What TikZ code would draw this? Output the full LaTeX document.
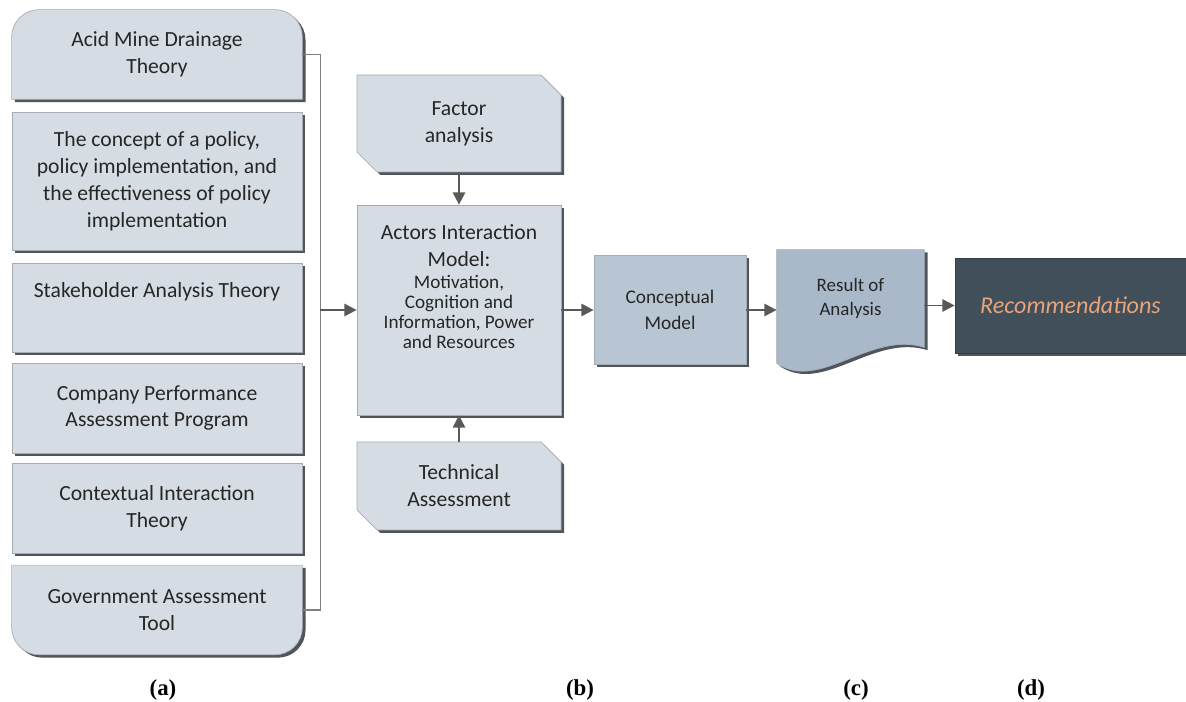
\documentclass[tikz,border=0pt]{standalone}
\usepackage{fontspec}
\setmainfont{Carlito}
\newfontfamily\capfont{Liberation Serif}
\usepackage{tikz}
\usetikzlibrary{shapes}
\usetikzlibrary{shapes.misc}
\usetikzlibrary{positioning}
\usetikzlibrary{calc}
\usetikzlibrary{arrows.meta}
\usetikzlibrary{shadows,backgrounds}

\definecolor{boxfill}{HTML}{D6DCE4}
\definecolor{boxedge}{HTML}{A4ACB5}
\definecolor{edgedark}{HTML}{50555B}
\definecolor{conceptfill}{HTML}{B8C6D3}
\definecolor{resultfill}{HTML}{A9B9CA}
\definecolor{recfill}{HTML}{404F59}
\definecolor{rectext}{HTML}{E9A37A}
\definecolor{arrowgray}{HTML}{595959}
\definecolor{linegray}{HTML}{7F7F7F}
\definecolor{txt}{HTML}{262626}

\tikzset{
  bevel/.style={drop shadow={shadow xshift=1.8pt, shadow yshift=-1.6pt, fill=edgedark, opacity=1}},
  bodyfont/.style={text=txt, font=\fontsize{12.3}{15.3}\selectfont},
  theory/.style={draw=boxedge, fill=boxfill, bevel, minimum width=5.8cm, minimum height=1.8cm, align=center, inner sep=2pt, bodyfont},
  theorytext/.style={minimum width=5.8cm, minimum height=1.78cm, align=center, inner sep=2pt, bodyfont},
  theoryshape/.style={draw=boxedge, fill=boxfill, bevel},
  snipbox/.style={chamfered rectangle, chamfered rectangle corners={north east,south west}, chamfered rectangle xsep=0.2cm, chamfered rectangle ysep=0.2cm, draw=boxedge, fill=boxfill, bevel, minimum width=4.08cm, align=center, inner sep=2pt, bodyfont},
  flow/.style={-{Triangle[length=7pt,width=7pt]}, line width=1.1pt, draw=arrowgray},
  tag/.style={font=\capfont\bfseries\fontsize{13}{15}\selectfont},
}

\begin{document}
\begin{tikzpicture}
    \useasboundingbox (0,0) rectangle (23.72,-14.04);

    % theories (a)
    \node[theorytext] (amd) at (3.14,-1.09) {Acid Mine Drainage\\Theory};
    \node[theory, minimum height=2.76cm] (policy) at (3.14,-3.62) {The concept of a policy,\\policy implementation, and\\the effectiveness of policy\\implementation};
    \node[theory, minimum height=1.78cm] (stake) at (3.14,-6.15) {Stakeholder Analysis Theory\\\strut};
    \node[theory] (company) at (3.14,-8.16) {Company Performance\\Assessment Program};
    \node[theory] (context) at (3.14,-10.16) {Contextual Interaction\\Theory};
    \node[theorytext] (gov) at (3.14,-12.2) {Government Assessment\\Tool};
    \begin{scope}[on background layer]
        \path[theoryshape] (amd.south west) -- ([yshift=-0.55cm]amd.north west)
            arc[start angle=180, end angle=90, radius=0.55cm] -- ([xshift=-0.55cm]amd.north east)
            arc[start angle=90, end angle=0, radius=0.55cm] -- (amd.south east) -- cycle;
        \path[theoryshape] (gov.north west) -- ([yshift=0.55cm]gov.south west)
            arc[start angle=180, end angle=270, radius=0.55cm] -- ([xshift=-0.55cm]gov.south east)
            arc[start angle=270, end angle=360, radius=0.55cm] -- (gov.north east) -- cycle;
    \end{scope}

    % model (b)
    \node[snipbox, minimum height=1.94cm] (factor) at (9.18,-2.47) {Factor\\analysis};
    \node[draw=boxedge, fill=boxfill, bevel, minimum width=4.08cm, minimum height=4.2cm] (actors) at (9.18,-6.2) {};
    \node[anchor=north, align=center, inner sep=0pt, bodyfont] (actorstext) at ([yshift=-0.4cm]actors.north)
        {Actors Interaction\\Model:\\[-3pt]{\fontsize{10.9}{10.8}\selectfont Motivation,}\\[-4pt]
         {\fontsize{10.9}{10.8}\selectfont Cognition and}\\[-4pt]
         {\fontsize{10.9}{10.8}\selectfont Information, Power}\\[-4pt]
         {\fontsize{10.9}{10.8}\selectfont and Resources}};
    \node[snipbox, minimum height=1.76cm] (tech) at (9.18,-9.72) {Technical\\Assessment};

    % (c) and (d)
    \node[draw=boxedge, fill=conceptfill, bevel, minimum width=3.04cm, minimum height=2.18cm, align=center,
          text=txt, font=\fontsize{11}{15}\selectfont] (concept) at (13.4,-6.2) {Conceptual\\Model};
    \node[minimum width=2.94cm, minimum height=1.94cm, align=center, text=txt,
          font=\fontsize{10.8}{14}\selectfont] (result) at (17.01,-5.97) {Result of\\Analysis};
    \begin{scope}[on background layer]
        \path[draw=boxedge, fill=resultfill, bevel] (result.north west) -- (result.north east) -- (result.south east)
            .. controls +(-1.08,0.34) and ([xshift=0.86cm,yshift=-0.9cm]result.south west) .. ([yshift=-0.32cm]result.south west) -- cycle;
    \end{scope}
    \node[draw=recfill!80!black, fill=recfill, bevel, minimum width=4.62cm, minimum height=1.9cm,
          text=rectext, font=\itshape\fontsize{13.7}{16}\selectfont] (rec) at (21.41,-6.11) {Recommendations};

    % connectors
    \coordinate (brk) at ($(amd.east)+(0.36,0)$);
    \draw[linegray, line width=0.6pt] (amd.east) -- (brk) |- (gov.east);
    \draw[flow] (brk |- actors.west) -- (actors.west);
    \draw[flow] (factor.south) -- (actors.north);
    \draw[flow] (tech.north) -- (actors.south);
    \draw[flow] (actors.east) -- (actors.east -| concept.west);
    \draw[flow] (concept.east) -- (concept.east -| result.west);
    \draw[flow] (result.east |- rec.west) -- (rec.west);

    % labels
    \node[tag] (taga) at (3.26,-13.8) {(a)};
    \node[tag] (tagb) at (11.6,-13.8) {(b)};
    \node[tag] (tagc) at (17.12,-13.8) {(c)};
    \node[tag] (tagd) at (20.62,-13.8) {(d)};
\end{tikzpicture}
\end{document}
